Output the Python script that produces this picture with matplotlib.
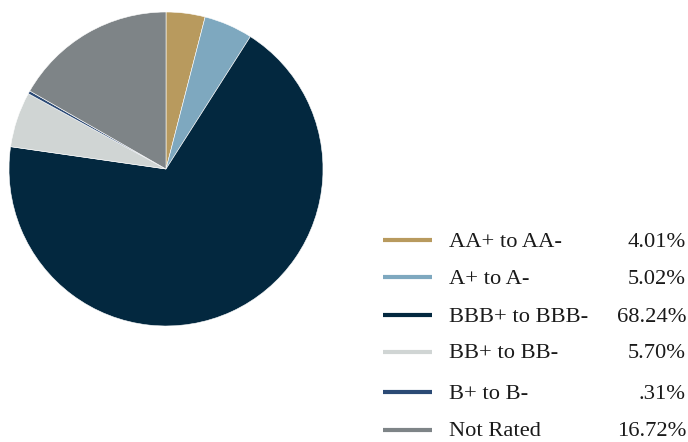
import matplotlib
matplotlib.use("Agg")
import matplotlib.pyplot as plt
from matplotlib.lines import Line2D

categories = ["AA+ to AA-", "A+ to A-", "BBB+ to BBB-", "BB+ to BB-", "B+ to B-", "Not Rated"]
values = [4.01, 5.02, 68.24, 5.70, 0.31, 16.72]
value_labels = ["4.01%", "5.02%", "68.24%", "5.70%", ".31%", "16.72%"]
colors = ["#B89A5E", "#7EA8BF", "#03283F", "#D0D5D4", "#2B4A75", "#7E8487"]

W, H = 688, 442
fig = plt.figure(figsize=(W / 100, H / 100), dpi=100)
fig.patch.set_facecolor("white")

ax = fig.add_axes([9 / W, (H - 326) / H, 314 / W, 314 / H])
ax.pie(values, colors=colors, startangle=90, counterclock=False, radius=1,
       wedgeprops=dict(edgecolor="white", linewidth=0.4))
ax.set_xlim(-1, 1)
ax.set_ylim(-1, 1)
ax.set_aspect("equal")
ax.axis("off")

font = "Liberation Serif"
row_y = [240, 277, 314.5, 351.5, 392, 429.5]
for cat, lab, col, y in zip(categories, value_labels, colors, row_y):
    fy = (H - y) / H
    fig.add_artist(Line2D([383 / W, 432 / W], [fy, fy], color=col, linewidth=3.0,
                          transform=fig.transFigure, solid_capstyle="butt"))
    fig.text(449 / W, fy, cat, ha="left", va="center_baseline", fontsize=16.2,
             family=font, color="#1a1a1a")
    fig.text(686 / W, fy, lab, ha="right", va="center_baseline", fontsize=16.2,
             family=font, color="#1a1a1a")

fig.savefig("out.png", dpi=100, facecolor="white")
